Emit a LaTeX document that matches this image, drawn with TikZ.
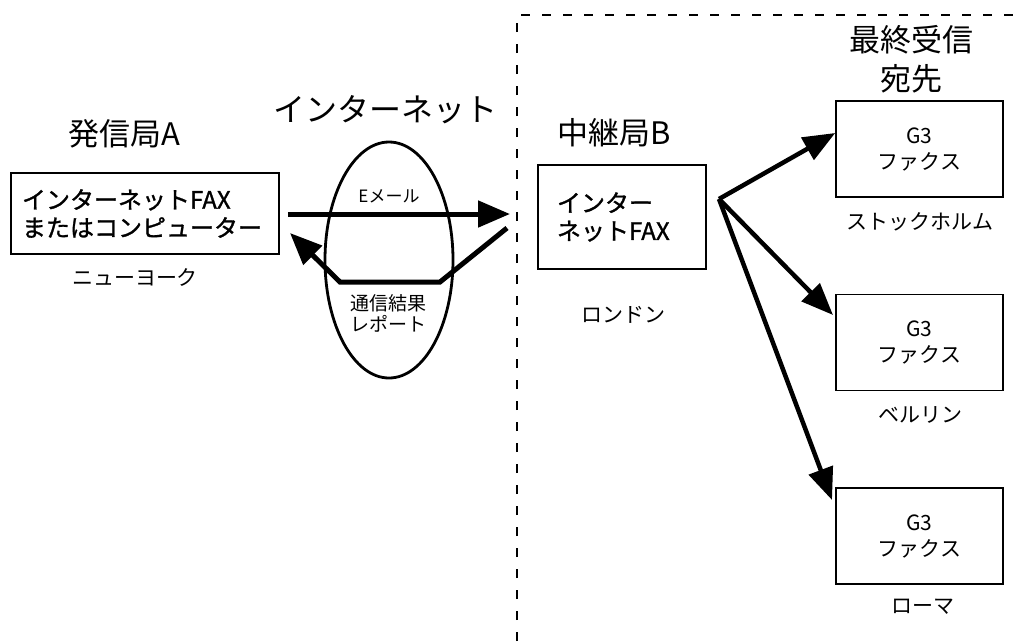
\documentclass[tikz,border=0pt]{standalone}
\usepackage{fontspec}
\newfontfamily\jp{Noto Sans CJK JP}
\newfontfamily\jpb[FakeBold=1.2]{Noto Sans CJK JP}
\usetikzlibrary{arrows.meta,shapes.geometric}
\tikzset{
  title/.style={font=\jp\fontsize{31}{39}\selectfont, align=center, inner sep=0pt},
  place/.style={font=\jp\fontsize{21}{26}\selectfont, align=center, inner sep=0pt},
  small/.style={font=\jp\fontsize{17}{20}\selectfont, align=center, inner sep=0pt},
  box/.style={draw, line width=1.5pt, inner sep=0pt},
  faxbox/.style={box, minimum width=167pt, minimum height=96pt, align=center,
    font=\jp\fontsize{21}{26}\selectfont},
  big/.style={line width=5pt, -{Triangle[length=32pt,width=26pt]}},
  fan/.style={line width=4.5pt, -{Triangle[length=32pt,width=25pt]}},
  border/.style={line width=1.6pt, dash pattern=on 9pt off 12pt},
}
\begin{document}
\begin{tikzpicture}[x=1pt,y=-1pt]
\useasboundingbox (0,0) rectangle (1013,641);
% dashed border
\draw[border] (517,641) -- (517,15) -- (1013,15);
% titles
\node[title] (tA) at (124,134) {発信局A};
\node[title, font=\jp\fontsize{32}{39}\selectfont] (tNet) at (385,110) {インターネット};
\node[title] (tB) at (614,133) {中継局B};
\node[title] (tDest) at (911,59) {最終受信\\宛先};
% box A
\node[box, minimum width=268pt, minimum height=81pt, text width=246pt, inner xsep=11pt,
  align=left, font=\jpb\fontsize{24}{28}\selectfont] (boxA) at (145,213.5)
  {インターネットFAX\\またはコンピューター};
\node[place] (ny) at (135,277) {ニューヨーク};
% ellipse
\node[draw, ellipse, line width=2.8pt, minimum width=128pt, minimum height=236pt, inner sep=0pt] (net) at (389,260) {};
\node[small] (email) at (389,196) {Eメール};
\node[font=\jp\fontsize{19}{21}\selectfont, align=center, inner sep=0pt] (report) at (388,313) {通信結果\\レポート};
% box B
\node[box, minimum width=168pt, minimum height=104pt, text width=130pt, inner xsep=19pt,
  align=left, font=\jpb\fontsize{24}{28}\selectfont] (boxB) at (622,217)
  {インター\\ネットFAX};
\node[place] (london) at (623,315) {ロンドン};
% destination boxes
\node[faxbox] (c1) at (919.5,149) {G3\\ファクス};
\node[place] (sto) at (920,222) {ストックホルム};
\node[faxbox] (c2) at (919.5,342.5) {G3\\ファクス};
\node[place] (ber) at (920,415) {ベルリン};
\node[faxbox] (c3) at (919.5,536) {G3\\ファクス};
\node[place] (rom) at (923,607) {ローマ};
% connectors
\coordinate (mailS) at (boxA.east |- 0,214);
\coordinate (mailE) at (510,214);
\draw[big] ([xshift=8pt]mailS) -- (mailE);
\coordinate (repS) at (507,228);
\coordinate (repE) at (290,233);
\draw[big, line join=miter] (repS) -- (440,282) -- (340,282) -- (repE);
\coordinate (hub) at (719,199);
\draw[fan] (hub) -- (c1.west |- 0,133);
\draw[fan] (hub) -- (833,315);
\draw[fan] (hub) -- (832,500);
\end{tikzpicture}
\end{document}
